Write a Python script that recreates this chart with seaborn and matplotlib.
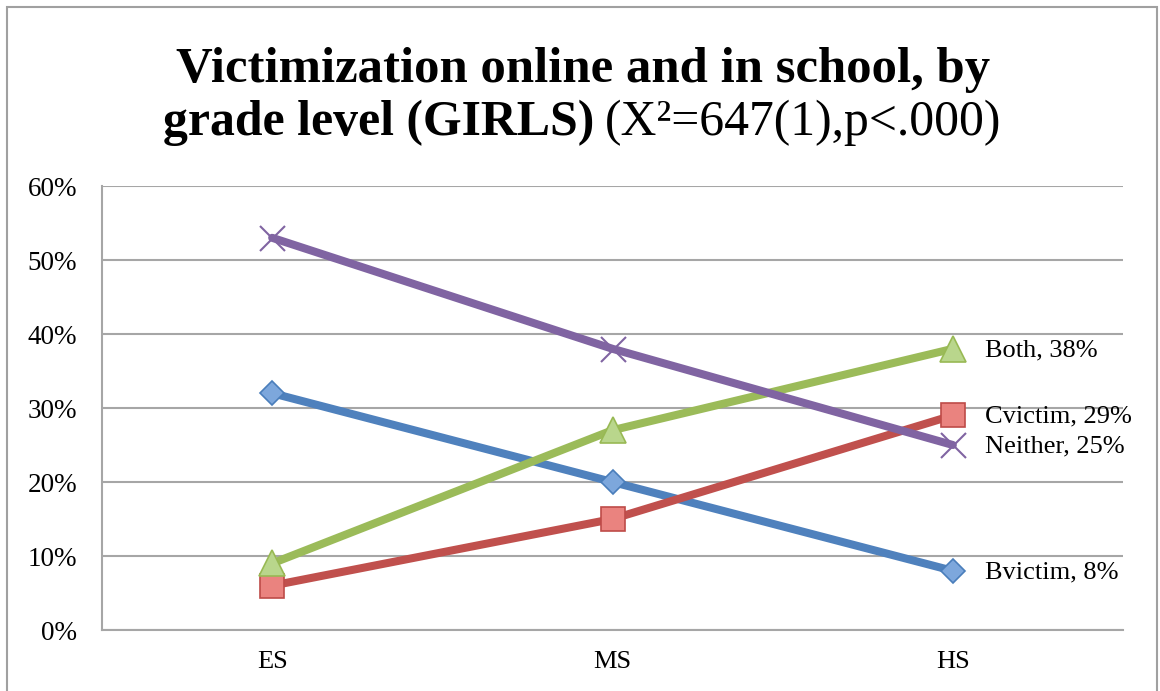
# %% Imports
import pandas as pd
import seaborn as sns
import matplotlib.pyplot as plt
from matplotlib.patches import Rectangle
from matplotlib.ticker import PercentFormatter

# %% Data (percent of girls, by grade level)
GRADES = ["ES", "MS", "HS"]
BVICTIM = [32, 20, 8]
CVICTIM = [6, 15, 29]
BOTH = [9, 27, 38]
NEITHER = [53, 38, 25]
SERIES_NAMES = ["Bvictim", "Cvictim", "Both", "Neither"]

# %% Styles
STYLES = {
    "Bvictim": dict(color="#4F81BD", marker="D", markersize=12, markerfacecolor="#7DA7DC",
                    markeredgecolor="#4A7EBB", markeredgewidth=1.2),
    "Cvictim": dict(color="#C0504D", marker="s", markersize=17, markerfacecolor="#EA837F",
                    markeredgecolor="#BE4B48", markeredgewidth=1.2),
    "Both": dict(color="#9BBB59", marker="^", markersize=19, markerfacecolor="#B9D68C",
                 markeredgecolor="#98B954", markeredgewidth=1.2),
    "Neither": dict(color="#8064A2", marker="x", markersize=18, markeredgecolor="#8064A2",
                    markeredgewidth=1.5),
}


def build_df():
    values = {"Bvictim": BVICTIM, "Cvictim": CVICTIM, "Both": BOTH, "Neither": NEITHER}
    rows = []
    for name in SERIES_NAMES:
        for grade, v in zip(GRADES, values[name]):
            rows.append({"grade": grade, "series": name, "pct": v})
    return pd.DataFrame(rows)


def plot_chart(df, fig_path="out.png"):
    sns.set_style("white")
    plt.rcParams["font.family"] = ["Liberation Serif", "DejaVu Serif"]
    plt.rcParams["text.color"] = "black"
    plt.rcParams["xtick.color"] = "black"
    plt.rcParams["ytick.color"] = "black"

    fig = plt.figure(figsize=(11.6, 6.91), dpi=100)
    ax = fig.add_axes([102 / 1160, 1 - 630 / 691, 1021 / 1160, 444 / 691])

    for name in SERIES_NAMES:
        sub = df[df.series == name]
        sns.lineplot(data=sub, x="grade", y="pct", ax=ax, linewidth=5.8, legend=False, **STYLES[name])
        last = sub.iloc[-1]
        ax.annotate(f"{name}, {last.pct}%", xy=(len(GRADES) - 1, last.pct), xytext=(23, -1),
                    textcoords="offset points", va="center", ha="left", fontsize=19, color="black")

    ax.set_xlim(-0.5, len(GRADES) - 0.5)
    ax.set_ylim(0, 60)
    ax.set_yticks(range(0, 61, 10))
    ax.yaxis.set_major_formatter(PercentFormatter(xmax=100, decimals=0))
    ax.grid(axis="y", color="#A6A6A6", linewidth=1.5)
    ax.set_axisbelow(True)
    for side in ["top", "right"]:
        ax.spines[side].set_visible(False)
    for side in ["left", "bottom"]:
        ax.spines[side].set_color("#A6A6A6")
        ax.spines[side].set_linewidth(1.5)
    ax.tick_params(axis="y", length=0, pad=18, labelsize=19.5, labelcolor="black")
    ax.tick_params(axis="x", length=0, pad=15, labelsize=19, labelcolor="black")
    ax.set_xlabel("")
    ax.set_ylabel("")

    # Title: bold first line, mixed bold/regular second line
    fs = 36.5
    fig.text(583 / 1160, 1 - 82 / 691, "Victimization online and in school, by", ha="center",
             va="baseline", fontsize=fs, weight="bold", color="black")
    y2 = 1 - 135 / 691
    fs2 = 35.8
    t_b = fig.text(0, y2, "grade level (GIRLS)", va="baseline", fontsize=fs2, weight="bold", color="black")
    t_r = fig.text(0, y2, "(X²=647(1),p<.000)", va="baseline", fontsize=fs2, color="black")
    renderer = fig.canvas.get_renderer()
    w_b = t_b.get_window_extent(renderer).width
    w_r = t_r.get_window_extent(renderer).width
    gap = 10
    x0 = 582 - (w_b + gap + w_r) / 2
    t_b.set_x(x0 / 1160)
    t_r.set_x((x0 + w_b + gap) / 1160)

    # Outer frame
    fig.patches.append(Rectangle((7 / 1160, -0.02), 1150 / 1160, 1.02 - 7 / 691, transform=fig.transFigure,
                                 fill=False, edgecolor="#A0A0A0", linewidth=1.5))

    fig.savefig(fig_path, dpi=100)


if __name__ == "__main__":
    plot_chart(build_df())
